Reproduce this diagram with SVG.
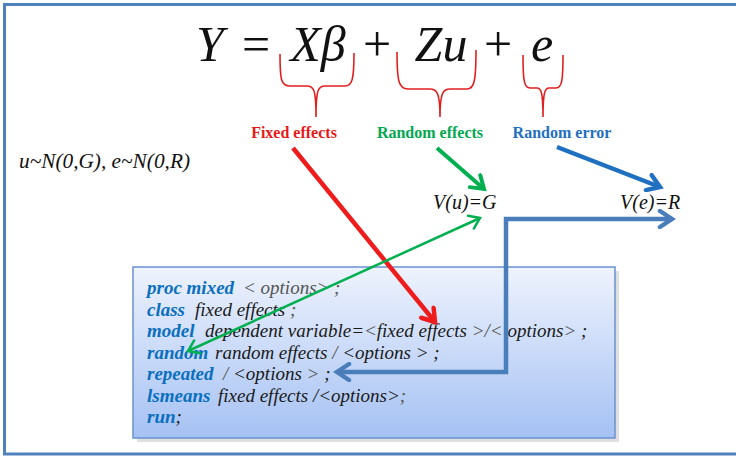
<svg xmlns="http://www.w3.org/2000/svg" width="736" height="457" viewBox="0 0 736 457">
<defs>
<linearGradient id="boxg" x1="0" y1="0" x2="0" y2="1">
<stop offset="0" stop-color="#eef3fd"/>
<stop offset="1" stop-color="#a5c1f3"/>
</linearGradient>
<marker id="mRed" markerUnits="userSpaceOnUse" viewBox="0 0 20 20" markerWidth="20" markerHeight="20" refX="16" refY="10" orient="auto-start-reverse"><path d="M4,2 L16,10 L4,18" fill="none" stroke="#ee1c1c" stroke-width="4.5" stroke-linecap="round" stroke-linejoin="miter"/></marker>
<marker id="mGreen" markerUnits="userSpaceOnUse" viewBox="0 0 20 20" markerWidth="20" markerHeight="20" refX="16" refY="10" orient="auto-start-reverse"><path d="M4,2 L16,10 L4,18" fill="none" stroke="#00b050" stroke-width="4" stroke-linecap="round"/></marker>
<marker id="mGreenThin" markerUnits="userSpaceOnUse" viewBox="0 0 20 20" markerWidth="20" markerHeight="20" refX="16" refY="10" orient="auto-start-reverse"><path d="M6,3 L16,10 L6,17" fill="none" stroke="#00b050" stroke-width="2.5" stroke-linecap="round"/></marker>
<marker id="mBlue" markerUnits="userSpaceOnUse" viewBox="0 0 20 20" markerWidth="20" markerHeight="20" refX="16" refY="10" orient="auto-start-reverse"><path d="M4,2 L16,10 L4,18" fill="none" stroke="#1f70c1" stroke-width="4.5" stroke-linecap="round"/></marker>
<marker id="mSteel" markerUnits="userSpaceOnUse" viewBox="0 0 20 20" markerWidth="20" markerHeight="20" refX="16" refY="10" orient="auto-start-reverse"><path d="M4,2 L16,10 L4,18" fill="none" stroke="#4a7ebb" stroke-width="4.5" stroke-linecap="round"/></marker>
</defs>
<style>
.eq{font-family:"Liberation Serif","Times New Roman",serif;font-size:50px;font-style:italic;fill:#111}
.op{font-style:normal}
.brace{fill:none;stroke:#e02020;stroke-width:1.6}
.lbl{font-family:"Liberation Serif","Times New Roman",serif;font-size:16px;font-weight:bold}
.math{font-family:"Liberation Serif","Times New Roman",serif;font-size:20px;font-style:italic;fill:#111}
.code{font-family:"Liberation Serif","Times New Roman",serif;font-size:19px;font-style:italic;fill:#1a1a1a}
.kw{fill:#0a6fbf;font-weight:bold}
.gr{fill:#555}
.conn{fill:none;stroke-linecap:butt}
</style>
<rect x="0" y="0" width="736" height="457" fill="#ffffff"/>
<g id="frame" fill="none" stroke="#4f81bd" stroke-width="3">
<path d="M736,4.5 L4.5,4.5 L4.5,454 L736,454"/>
</g>
<g id="equation">
<text class="eq" x="210" y="61" text-anchor="middle">Y</text>
<text class="eq op" x="256" y="61" text-anchor="middle">=</text>
<text class="eq" x="318" y="61" text-anchor="middle">Xβ</text>
<text class="eq op" x="377" y="61" text-anchor="middle">+</text>
<text class="eq" x="441" y="61" text-anchor="middle">Zu</text>
<text class="eq op" x="498" y="61" text-anchor="middle">+</text>
<text class="eq" x="542" y="61" text-anchor="middle">e</text>
</g>
<g id="braces">
<path class="brace" d="M280,54 C280,80 281,86 290,86 L307,86 C314,86 316,90 316,117 C316,90 318,86 325,86 L345,86 C352,86 354,80 354,53"/>
<path class="brace" d="M397,52 C397,82 399,89 408,89 L430,89 C437,89 440,93 440,117 C440,93 443,89 450,89 L467,89 C474,89 476,82 476,50"/>
<path class="brace" d="M523,55 C523,80 524,88 530,88 L537,88 C541,88 543,92 543,117 C543,92 545,88 549,88 L556,88 C562,88 563,80 563,55"/>
</g>
<g id="fixed-label"><text class="lbl" x="294" y="138" text-anchor="middle" fill="#e81818">Fixed effects</text></g>
<g id="random-label"><text class="lbl" x="430" y="138" text-anchor="middle" fill="#00a850">Random effects</text></g>
<g id="error-label"><text class="lbl" x="562" y="138" text-anchor="middle" fill="#1f70c1">Random error</text></g>
<g id="dist"><text class="math" x="19" y="168" textLength="171" lengthAdjust="spacingAndGlyphs" style="font-size:21px">u~N(0,G), e~N(0,R)</text></g>
<g id="vu"><text class="math" x="433" y="209">V(u)=G</text></g>
<g id="ve"><text class="math" x="620" y="209">V(e)=R</text></g>
<g id="code">
<rect x="137" y="271" width="482" height="171" fill="#7f7f7f" opacity="0.25"/>
<rect x="133" y="267" width="482" height="171" fill="url(#boxg)" stroke="#6a92cf" stroke-width="1.5"/>
<text class="code" y="294" x="147"><tspan class="kw">proc mixed</tspan><tspan x="243" class="gr">&lt; options&gt; ;</tspan></text>
<text class="code" y="315.5" x="147"><tspan class="kw">class</tspan><tspan x="195">fixed effects</tspan><tspan class="gr"> ;</tspan></text>
<text class="code" y="337" x="147"><tspan class="kw">model</tspan><tspan x="205">dependent variable=</tspan><tspan class="gr">&lt;</tspan><tspan>fixed effects </tspan><tspan class="gr">&gt;/&lt;</tspan><tspan> options</tspan><tspan class="gr">&gt;</tspan><tspan> ;</tspan></text>
<text class="code" y="358.5" x="147"><tspan class="kw">random</tspan><tspan x="215">random effects </tspan><tspan class="gr">/ </tspan><tspan>&lt;options &gt; ;</tspan></text>
<text class="code" y="380" x="147"><tspan class="kw">repeated</tspan><tspan x="223" class="gr">/ </tspan><tspan>&lt;options </tspan><tspan class="gr">&gt;</tspan><tspan> ;</tspan></text>
<text class="code" y="401.5" x="147"><tspan class="kw">lsmeans</tspan><tspan x="218">fixed effects /&lt;options&gt;</tspan><tspan class="gr">;</tspan></text>
<text class="code" y="423" x="147"><tspan class="kw">run</tspan><tspan>;</tspan></text>
</g>
<g id="connectors" class="conn">
<line x1="293" y1="148" x2="435" y2="322" stroke="#ee1c1c" stroke-width="4.5" marker-end="url(#mRed)"/>
<line x1="437" y1="148" x2="484" y2="189" stroke="#00b050" stroke-width="4" marker-end="url(#mGreen)"/>
<line x1="557" y1="147" x2="660" y2="187" stroke="#1f70c1" stroke-width="4.5" marker-end="url(#mBlue)"/>
<line x1="480" y1="218" x2="188" y2="351" stroke="#00b050" stroke-width="2.5" marker-start="url(#mGreenThin)" marker-end="url(#mGreenThin)"/>
<path d="M672,219 L506,219 L506,372 L337,372" stroke="#4a7ebb" stroke-width="4.5" marker-start="url(#mSteel)" marker-end="url(#mSteel)"/>
</g>
</svg>
